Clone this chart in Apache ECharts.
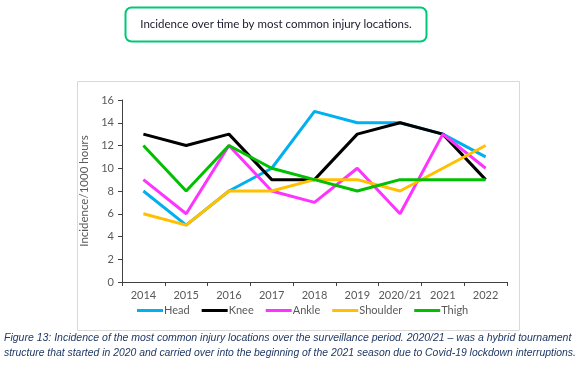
<!DOCTYPE html>
<html>
<head>
<meta charset="utf-8">
<script src="https://cdn.jsdelivr.net/npm/echarts@6/dist/echarts.min.js"></script>
<style>
  html, body { margin: 0; padding: 0; background: #fff; }
  #chart { width: 580px; height: 368px; }
</style>
</head>
<body>
<div id="chart"></div>
<script>
var years = ['2014', '2015', '2016', '2017', '2018', '2019', '2020/21', '2021', '2022'];
var head = [8, 5, 8, 10, 15, 14, 14, 13, 11];
var knee = [13, 12, 13, 9, 9, 13, 14, 13, 9];
var ankle = [9, 6, 12, 8, 7, 10, 6, 13, 10];
var shoulder = [6, 5, 8, 8, 9, 9, 8, 10, 12];
var thigh = [12, 8, 12, 10, 9, 8, 9, 9, 9];

var seriesNames = ['Head', 'Knee', 'Ankle', 'Shoulder', 'Thigh'];
var seriesData = [head, knee, ankle, shoulder, thigh];
var colors = ['#00b0f0', '#000000', '#ff33ff', '#ffc000', '#00c000'];

var caption1 = 'Figure 13: Incidence of the most common injury locations over the surveillance period. 2020/21 \u2013 was a hybrid tournament';
var caption2 = 'structure that started in 2020 and carried over into the beginning of the 2021 season due to Covid-19 lockdown interruptions.';

var myChart = echarts.init(document.getElementById('chart'));
myChart.setOption({
  animation: false,
  color: colors,
  grid: { left: 122, right: 73, top: 100, bottom: 86 },
  legend: {
    top: 305,
    left: 137,
    icon: 'rect',
    itemWidth: 26,
    itemHeight: 3,
    itemGap: 12,
    padding: 0,
    textStyle: { color: '#595959', fontSize: 11, fontFamily: 'Lato', padding: [0, 0, 0, -4] },
    data: seriesNames
  },
  xAxis: {
    type: 'category',
    data: years,
    boundaryGap: true,
    axisLine: { lineStyle: { color: '#404040', width: 1 } },
    axisTick: { show: true, alignWithLabel: false, length: 4, lineStyle: { color: '#404040' } },
    axisLabel: { color: '#595959', fontSize: 11, margin: 8, interval: 0, fontFamily: 'Lato' }
  },
  yAxis: {
    type: 'value',
    min: 0,
    max: 16,
    interval: 2,
    name: 'Incidence/1000 hours',
    nameLocation: 'middle',
    nameGap: 28,
    nameTextStyle: { color: '#595959', fontSize: 11.5, fontFamily: 'Lato' },
    axisLine: { show: true, lineStyle: { color: '#404040', width: 1 } },
    axisTick: { show: true, length: 4, lineStyle: { color: '#404040' } },
    axisLabel: { color: '#595959', fontSize: 11, margin: 8, fontFamily: 'Lato' },
    splitLine: { show: false }
  },
  series: seriesNames.map(function (name, i) {
    return {
      name: name,
      type: 'line',
      data: seriesData[i],
      symbol: 'none',
      lineStyle: { width: 3, color: colors[i] },
      itemStyle: { color: colors[i] }
    };
  }),
  graphic: [
    {
      type: 'rect',
      shape: { x: 125.5, y: 7.5, width: 301, height: 34, r: 6 },
      style: { fill: '#fff', stroke: '#00c878', lineWidth: 2 }
    },
    {
      type: 'text',
      x: 276, y: 24,
      style: {
        text: 'Incidence over time by most common injury locations.',
        fill: '#1a1a2e', font: '11.5px "Lato"',
        textAlign: 'center', textVerticalAlign: 'middle'
      }
    },
    {
      type: 'rect',
      z: -10,
      shape: { x: 77.5, y: 81.5, width: 442, height: 249 },
      style: { fill: 'none', stroke: '#d9d9d9', lineWidth: 1 }
    },
    {
      type: 'text',
      x: 4, y: 338,
      style: {
        text: caption1,
        fill: '#1f3864', font: 'italic 10.5px "Liberation Sans"',
        textVerticalAlign: 'middle'
      }
    },
    {
      type: 'text',
      x: 4, y: 353,
      style: {
        text: caption2,
        fill: '#1f3864', font: 'italic 10.4px "Liberation Sans"',
        textVerticalAlign: 'middle'
      }
    }
  ]
});
</script>
</body>
</html>
